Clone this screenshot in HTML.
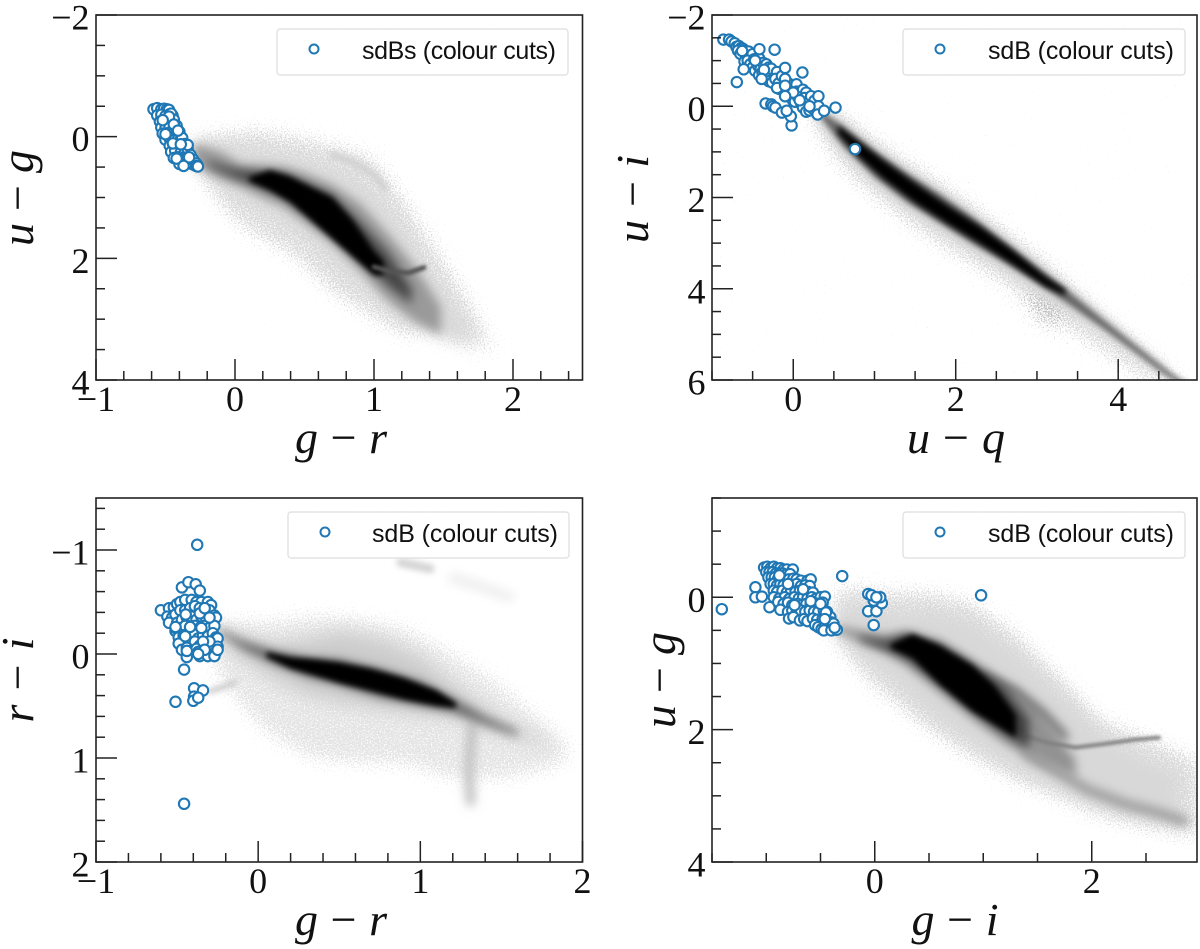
<!DOCTYPE html>
<html lang="en">
<head>
<meta charset="utf-8">
<title>sdB colour-colour diagrams</title>
<style>
html,body{margin:0;padding:0;background:#fff;width:1200px;height:949px;overflow:hidden}
svg{display:block}
.tick{font-family:"Liberation Serif",serif;font-size:36px;fill:#111}
.math{font-family:"Liberation Serif",serif;font-style:italic;font-size:46px;fill:#111}
.leg{font-family:"Liberation Sans",sans-serif;font-size:25px;fill:#111}
</style>
</head>
<body>
<svg id="fig" xmlns="http://www.w3.org/2000/svg" width="1200" height="949" viewBox="0 0 1200 949">
<defs>
<filter id="b1" filterUnits="userSpaceOnUse" x="0" y="0" width="1200" height="949"><feGaussianBlur stdDeviation="1.6"/></filter>
<filter id="b2" filterUnits="userSpaceOnUse" x="0" y="0" width="1200" height="949"><feGaussianBlur stdDeviation="3"/></filter>
<filter id="b4" filterUnits="userSpaceOnUse" x="0" y="0" width="1200" height="949"><feGaussianBlur stdDeviation="5"/></filter>
<filter id="b8" filterUnits="userSpaceOnUse" x="0" y="0" width="1200" height="949"><feGaussianBlur stdDeviation="9"/></filter>
<filter id="speckle" filterUnits="userSpaceOnUse" x="0" y="0" width="1200" height="949" color-interpolation-filters="sRGB">
<feGaussianBlur in="SourceAlpha" stdDeviation="12" result="soft"/>
<feTurbulence type="fractalNoise" baseFrequency="0.7" numOctaves="2" seed="4" result="noise"/>
<feColorMatrix in="noise" type="matrix" values="0 0 0 0 0 0 0 0 0 0 0 0 0 0 0 1 0 0 0 0" result="field"/>
<feComposite in="soft" in2="field" operator="arithmetic" k1="0" k2="2.5" k3="5" k4="-3.9"/>
</filter>
</defs>
</svg>
<script>
/* ---------- panel A : g-r vs u-g ---------- */
const aXTicks=[-1,0,1,2];
const aYTicks=[-2,0,2,4];
const aSdbX=[-.586,-.56,-.53,-.51,-.49,-.475,-.56,-.53,-.50,-.47,-.45,-.54,-.51,-.49,-.46,-.44,-.53,-.50,-.47,-.44,-.42,-.52,-.48,-.45,-.42,-.40,-.50,-.47,-.44,-.41,-.39,-.47,-.44,-.41,-.38,-.36,-.46,-.43,-.39,-.36,-.34,-.44,-.41,-.37,-.34,-.31,-.40,-.37,-.33,-.30,-.27,-.46,-.44,-.42,-.40,-.38,-.36,-.34,-.32,-.30,-.28,-.475,-.44,-.41,-.52,-.50,-.447,-.34,-.39,-.33,-.42,-.28,-.37,-.267];
const aSdbY=[-.45,-.47,-.45,-.46,-.45,-.44,-.35,-.36,-.34,-.37,-.35,-.25,-.24,-.26,-.23,-.26,-.15,-.14,-.16,-.14,-.15,-.05,-.06,-.04,-.06,-.05,.05,.03,.06,.04,.05,.15,.14,.16,.13,.15,.25,.23,.26,.24,.25,.35,.34,.36,.33,.35,.45,.47,.44,.46,.47,-.38,-.28,-.18,-.08,.02,.12,.2,.3,.38,.44,-.33,-.2,-.1,-.27,-.04,.11,.137,.126,.34,.36,.48,.48,.49];
const aHaloX=[-.3,-.1,.1,.4,.7,1,1.2,1.4,1.6,1.8,1.92];
const aHaloTop=[-.1,-.1,-.2,-.1,.05,.25,.85,1.55,2.25,3.05,3.6];
const aHaloBot=[.6,1.25,1.65,2,2.65,3.05,3.35,3.25,3.45,3.55,3.65];
const aSoftX=[-.28,-.1,.1,.3,.5,.75,1,1.2,1.4,1.55,1.7];
const aSoftTop=[.05,.12,.25,.32,.42,.6,.95,1.55,2.25,2.75,3.2];
const aSoftBot=[.45,.75,1.05,1.25,1.55,2.05,2.55,2.95,3.2,3.3,3.4];
const aMidX=[-.3,-.1,.05,.2,.35,.5,.7,.9,1.1,1.3,1.48];
const aMidTop=[.1,.25,.47,.47,.5,.6,.8,1.1,1.6,2.15,2.8];
const aMidBot=[.45,.7,.82,1,1.15,1.4,1.75,2.2,2.7,3.05,3.25];
const aDarkX=[-.2,0,.2,.35,.5,.7,.9,1.1,1.27];
const aDarkTop=[.4,.53,.58,.6,.75,.95,1.4,1.9,2.5];
const aDarkBot=[.47,.68,.85,1,1.25,1.6,2,2.45,2.75];
const aCoreX=[.1,.25,.4,.55,.7,.85,1,1.07];
const aCoreTop=[.67,.55,.66,.83,1,1.38,1.88,2.05];
const aCoreBot=[.73,.88,1.08,1.38,1.68,1.98,2.28,2.28];
const aClumpX=[1,1.12,1.25,1.36];
const aClumpY=[2.14,2.22,2.24,2.15];
const aArcX=[.7,.85,1,1.08];
const aArcY=[.3,.42,.62,.85];
/* ---------- panel B : u-q vs u-i ---------- */
const bXTicks=[0,2,4];
const bYTicks=[-2,0,2,4,6];
const bSdbX=[-.86,-.79,-.76,-.72,-.70,-.67,-.64,-.62,-.68,-.65,-.60,-.58,-.55,-.52,-.50,-.60,-.56,-.53,-.48,-.45,-.42,-.50,-.47,-.43,-.40,-.37,-.33,-.30,-.42,-.38,-.34,-.31,-.27,-.24,-.20,-.30,-.26,-.22,-.18,-.14,-.10,-.06,-.17,-.12,-.08,-.04,0,.04,-.09,-.05,0,.04,.08,.12,.16,.02,.06,.10,.14,.18,.22,.26,.12,.16,.2,.24,-.695,-.416,-.23,-.10,.113,-.61,.52,.76,-.02,-.03,-.34,-.27,-.25,-.22,-.14,-.08,.31,.31,.30,.38,-.63,-.47,-.36,-.39,-.1,-.2,-.1,0,.08,-.1,.2];
const bSdbY=[-1.46,-1.46,-1.42,-1.38,-1.3,-1.32,-1.28,-1.26,-1.22,-1.15,-1.22,-1.12,-1.2,-1.1,-1.14,-.98,-1,-.92,-1.03,-.96,-1.05,-.85,-.78,-.88,-.82,-.95,-.92,-.85,-.68,-.75,-.72,-.68,-.82,-.62,-.75,-.55,-.52,-.6,-.5,-.66,-.58,-.5,-.38,-.42,-.3,-.46,-.36,-.48,-.22,-.28,-.12,-.32,-.22,-.36,-.3,-.1,-.2,-.05,-.18,-.1,-.22,-.12,.03,.12,.09,.05,-.53,-1.25,-1.24,-.84,-.74,-.81,.03,.94,.42,.22,-.06,-.04,0,.03,.14,.1,-.22,0,.18,.1,-1.21,-1,-.8,-.6,-.6,-.4,-.45,-.3,-.13,-.22,0];
const bHaloX=[.2,.6,1,1.4,1.8,2.2,2.6,3,3.4,3.8,4.2,4.6,4.9];
const bHaloTop=[-.2,.05,.6,1.1,1.55,2.05,2.6,3.15,3.75,4.45,5.05,5.65,6.05];
const bHaloBot=[.5,1.5,2.1,2.65,3.15,3.55,4,4.6,5,5.45,5.95,6.25,6.35];
const bSoftX=[.25,.6,1,1.4,1.8,2.2,2.6,3,3.4,3.8,4.2,4.6];
const bSoftTop=[0,.3,.85,1.35,1.82,2.3,2.85,3.4,3.98,4.55,5.15,5.75];
const bSoftBot=[.2,1,1.7,2.25,2.72,3.15,3.6,4.05,4.5,4.95,5.45,5.95];
const bMidX=[.3,.6,1,1.4,1.8,2.2,2.6,3,3.4,3.8,4.2,4.6,4.9];
const bMidTop=[.05,.42,.97,1.47,1.92,2.42,2.97,3.52,4.07,4.65,5.22,5.78,6.15];
const bMidBot=[.15,.85,1.55,2.1,2.55,3,3.42,3.87,4.35,4.85,5.38,5.92,6.25];
const bCoreX=[.55,.8,1.1,1.5,1.9,2.3,2.7,3.1,3.35];
const bCoreTop=[.42,.76,1.17,1.68,2.17,2.63,3.15,3.72,4.02];
const bCoreBot=[.6,1.1,1.58,2.12,2.58,3.02,3.47,3.95,4.15];
const bBlobX=[2.85,3.1,3.35];
const bBlobTop=[3.9,4.1,4.45];
const bBlobBot=[4.5,5.05,4.9];
/* ---------- panel C : g-r vs r-i ---------- */
const cXTicks=[-1,0,1,2];
const cYTicks=[-1,0,1,2];
const cSdbX=[-.6,-.55,-.56,-.53,-.55,-.52,-.5,-.48,-.45,-.41,-.38,-.35,-.31,-.29,-.51,-.48,-.45,-.42,-.39,-.36,-.33,-.3,-.27,-.5,-.47,-.44,-.41,-.38,-.35,-.32,-.29,-.26,-.51,-.48,-.45,-.42,-.39,-.36,-.33,-.3,-.27,-.51,-.49,-.46,-.43,-.4,-.37,-.34,-.31,-.28,-.26,-.48,-.45,-.42,-.39,-.36,-.33,-.3,-.27,-.25,-.49,-.47,-.44,-.41,-.38,-.35,-.32,-.29,-.26,-.25,-.44,-.37,-.36,-.31,-.27,-.25,-.447,-.36,-.33,-.3,-.51,-.42,-.35,-.45,-.3,-.34,-.44,-.33,-.37,-.376,-.47,-.43,-.385,-.36,-.457,-.395,-.34,-.395,-.40,-.37,-.51,-.457];
const cSdbY=[-.42,-.44,-.36,-.35,-.3,-.45,-.48,-.5,-.52,-.52,-.5,-.5,-.5,-.47,-.38,-.42,-.42,-.44,-.46,-.44,-.44,-.42,-.37,-.3,-.33,-.35,-.36,-.33,-.36,-.34,-.34,-.35,-.22,-.25,-.27,-.25,-.27,-.25,-.27,-.25,-.27,-.25,-.16,-.18,-.17,-.19,-.15,-.18,-.17,-.2,-.16,-.1,-.11,-.09,-.12,-.08,-.1,-.11,-.11,-.15,-.1,-.04,-.06,-.03,-.05,-.02,-.04,-.05,-.02,-.07,.03,-.02,.02,.02,.02,-.04,-.38,-.39,-.44,-.35,-.26,-.26,-.25,-.17,-.12,-.12,-.03,-.04,0,-1.05,-.64,-.69,-.67,-.61,.15,.33,.35,.41,.45,.42,.46,1.44];
const cFarX=[-.3,0,.3,.6,.9,1.2,1.5,1.8,1.95];
const cFarTop=[-.35,-.35,-.4,-.4,-.3,-.05,.25,.65,.85];
const cFarBot=[.2,.75,1.05,1.1,1.1,1.25,1.25,1.15,1.05];
const cHaloX=[-.28,-.1,.1,.3,.5,.75,1,1.25,1.5,1.8];
const cHaloTop=[-.28,-.18,-.1,-.15,-.22,-.15,.02,.34,.62,.85];
const cHaloBot=[-.18,.05,.25,.4,.47,.53,.58,.62,.76,.9];
const cMidX=[-.25,-.1,.1,.3,.5,.75,1,1.2,1.4,1.6];
const cMidTop=[-.25,-.13,-.03,.03,.05,.14,.26,.42,.6,.74];
const cMidBot=[-.22,-.05,.1,.22,.3,.42,.5,.56,.68,.79];
const cCoreX=[.05,.2,.35,.5,.7,.9,1.1,1.22];
const cCoreTop=[-.02,.03,.05,.08,.14,.23,.35,.47];
const cCoreBot=[.03,.14,.21,.28,.36,.44,.5,.52];
const cBranchX=[1.32,1.31,1.3,1.31];
const cBranchY=[.68,.9,1.15,1.42];
const cPatchX=[.88,1.06];
const cPatchY=[-.88,-.82];
const cStreakX=[1.2,1.35,1.55];
const cStreakY=[-.73,-.66,-.55];
const cStubX=[-.3,-.22,-.14];
const cStubY=[.36,.32,.27];
/* ---------- panel D : g-i vs u-g ---------- */
const dXTicks=[0,2];
const dYTicks=[0,2,4];
const dSdbX=[-1.02,-.99,-.96,-.93,-.9,-.87,-.84,-.81,-.755,-1,-.97,-.94,-.91,-.88,-.85,-.82,-.78,-.98,-.95,-.92,-.89,-.86,-.83,-.79,-.75,-.72,-.68,-.62,-.59,-.96,-.93,-.9,-.87,-.84,-.8,-.76,-.72,-.68,-.64,-.6,-.93,-.9,-.85,-.81,-.77,-.73,-.69,-.65,-.61,-.57,-.93,-.88,-.83,-.79,-.74,-.7,-.66,-.62,-.58,-.54,-.5,-.46,-.97,-.89,-.84,-.8,-.76,-.71,-.67,-.63,-.59,-.55,-.51,-.48,-.87,-.8,-.76,-.72,-.68,-.64,-.6,-.56,-.52,-.47,-.44,-.79,-.75,-.69,-.65,-.62,-.57,-.53,-.48,-.44,-.41,-.55,-.52,-.49,-.46,-.43,-.4,-.38,-.47,-.4,-.35,-.37,-.88,-.8,-.66,-.59,-.74,-.5,-.45,-.46,-1.41,-1.1,-1.1,-1.04,-.3,.98,-.01,-.06,.015,.065,-.06,.05,-.01,-.03,.015];
const dSdbY=[-.45,-.46,-.44,-.46,-.44,-.44,-.42,-.42,-.42,-.38,-.38,-.38,-.36,-.36,-.36,-.34,-.35,-.3,-.3,-.3,-.28,-.28,-.27,-.27,-.28,-.27,-.25,-.25,-.27,-.2,-.2,-.18,-.2,-.18,-.19,-.18,-.2,-.17,-.18,-.17,-.1,-.08,-.1,-.07,-.1,-.08,-.1,-.07,-.08,-.07,0,.02,0,.03,0,.02,0,.02,0,.02,0,-.01,.15,.07,.1,.08,.12,.1,.12,.1,.11,.09,.1,.08,.19,.22,.2,.23,.2,.22,.2,.22,.22,.2,.22,.32,.3,.35,.33,.36,.32,.34,.32,.3,.3,.42,.45,.48,.44,.42,.38,.4,.5,.5,.49,.46,-.33,-.2,-.12,.06,.12,.1,.23,.33,.18,-.15,0,-.01,-.32,-.03,.42,.21,.21,.09,-.05,0,.05,-.03,0];
const dFarX=[-.4,-.1,.2,.5,.9,1.3,1.7,2.1,2.5,2.8,3.05];
const dFarTop=[-.25,-.2,-.15,-.15,0,.45,1.1,1.8,2.05,2.25,2.45];
const dFarBot=[.65,1.3,1.7,2.1,2.5,2.85,3.1,3.4,3.55,3.65,3.75];
const dHaloX=[-.35,-.1,.2,.5,.9,1.3,1.7,2.1,2.5,2.8];
const dHaloTop=[.1,.15,.25,.2,.35,.8,1.4,2.05,2.45,2.65];
const dHaloBot=[.55,.95,1.3,1.75,2.2,2.6,2.9,3.15,3.32,3.42];
const dMidX=[-.35,-.1,.1,.3,.6,.9,1.2,1.5,1.85];
const dMidTop=[.42,.52,.57,.52,.66,.96,1.3,1.72,2.45];
const dMidBot=[.53,.68,.83,1.03,1.43,1.83,2.2,2.5,2.72];
const dDarkX=[-.15,.1,.3,.6,.9,1.2,1.42];
const dDarkTop=[.59,.66,.56,.72,1.02,1.38,1.85];
const dDarkBot=[.65,.79,.94,1.33,1.72,2.08,2.28];
const dCoreX=[.15,.35,.6,.9,1.1,1.3];
const dCoreTop=[.71,.56,.73,1.03,1.33,1.78];
const dCoreBot=[.77,.92,1.32,1.72,1.92,2.12];
const dClumpX=[1.4,1.6,1.85,2.1,2.4,2.62];
const dClumpY=[2.1,2.2,2.27,2.22,2.15,2.12];
const dUpperX=[1,1.3,1.55,1.75];
const dUpperY=[1.2,1.42,1.75,2.1];
const dTailX=[1.4,1.7,1.95,2.3,2.6,2.85];
const dTailY=[2.35,2.65,2.9,3.12,3.25,3.38];

const NS='http://www.w3.org/2000/svg';
const fig=document.getElementById('fig');
function mk(tag,parent){const e=document.createElementNS(NS,tag);parent.appendChild(e);return e;}
function axisX(p,v){return p.left+(v-p.xMin)/(p.xMax-p.xMin)*(p.right-p.left);}
function axisY(p,v){return p.top+(v-p.yMin)/(p.yMax-p.yMin)*(p.bottom-p.top);}
function fmt(v){return String(v).replace('-','\u2212');}

function band(p,layer,xs,tops,bots,fill,filter,opacity){
  const up=xs.map((v,i)=>axisX(p,v).toFixed(1)+','+axisY(p,tops[i]).toFixed(1));
  const dn=xs.map((v,i)=>axisX(p,v).toFixed(1)+','+axisY(p,bots[i]).toFixed(1)).reverse();
  const e=mk('polygon',layer);
  
  
  e.setAttribute('points',up.concat(dn).join(' '));
  e.setAttribute('fill',fill);
  e.setAttribute('filter','url(#'+filter+')');
  if(opacity!==undefined)e.setAttribute('opacity',opacity);
}
function ridge(p,layer,xs,ys,stroke,width,filter,opacity){
  const e=mk('polyline',layer);
  
  
  e.setAttribute('points',xs.map((v,i)=>axisX(p,v).toFixed(1)+','+axisY(p,ys[i]).toFixed(1)).join(' '));
  e.setAttribute('fill','none');
  e.setAttribute('stroke',stroke);
  e.setAttribute('stroke-width',width);
  e.setAttribute('stroke-linecap','round');
  e.setAttribute('stroke-linejoin','round');
  e.setAttribute('filter','url(#'+filter+')');
  if(opacity!==undefined)e.setAttribute('opacity',opacity);
}
function mathText(t,a,b){
  const s1=mk('tspan',t);
  s1.textContent=a;
  const s2=mk('tspan',t);
  s2.setAttribute('font-style','normal');
  s2.textContent=' \u2212 ';
  const s3=mk('tspan',t);
  s3.textContent=b;
}

function panel(p,drawDensity){
  const g=mk('g',fig);
  
  
  const clip=mk('clipPath',g);
  clip.setAttribute('id','clip-'+p.id);
  const cr=mk('rect',clip);
  cr.setAttribute('x',p.left);cr.setAttribute('y',p.top);
  cr.setAttribute('width',p.right-p.left);cr.setAttribute('height',p.bottom-p.top);
  const dens=mk('g',g);
  
  
  dens.setAttribute('clip-path','url(#clip-'+p.id+')');
  drawDensity(p,dens);
  const pts=mk('g',g);
  
  
  pts.setAttribute('clip-path','url(#clip-'+p.id+')');
  p.sdbX.forEach((v,i)=>{
    const c=mk('circle',pts);
    
    
    c.setAttribute('cx',axisX(p,v).toFixed(1));
    c.setAttribute('cy',axisY(p,p.sdbY[i]).toFixed(1));
    c.setAttribute('r','5.2');
    c.setAttribute('fill','#fff');
    c.setAttribute('stroke','#1f77b4');
    c.setAttribute('stroke-width','2.1');
  });
  /* ticks */
  const ticks=mk('g',g);
  
  
  function tick(x1,y1,x2,y2){
    const t=mk('line',ticks);
    
    
    t.setAttribute('x1',x1);t.setAttribute('y1',y1);t.setAttribute('x2',x2);t.setAttribute('y2',y2);
    t.setAttribute('stroke','#222');t.setAttribute('stroke-width','1.5');
  }
  for(let k=Math.ceil(p.xMin/p.xMinor);k*p.xMinor<=p.xMax+1e-9;k++){
    const v=k*p.xMinor;
    const major=p.xTicks.some(t=>Math.abs(t-v)<1e-6);
    const x=axisX(p,v);
    tick(x,p.bottom,x,p.bottom-(major?21:9));
  }
  for(let k=Math.ceil(p.yMin/p.yMinor);k*p.yMinor<=p.yMax+1e-9;k++){
    const v=k*p.yMinor;
    const major=p.yTicks.some(t=>Math.abs(t-v)<1e-6);
    const y=axisY(p,v);
    tick(p.left,y,p.left+(major?21:9),y);
  }
  p.xTicks.forEach(v=>{
    const t=mk('text',g);
    
    
    t.setAttribute('class','tick');
    t.setAttribute('x',axisX(p,v));
    t.setAttribute('y',p.bottom+31);
    t.setAttribute('text-anchor','middle');
    t.textContent=fmt(v);
  });
  p.yTicks.forEach(v=>{
    const t=mk('text',g);
    
    
    t.setAttribute('class','tick');
    t.setAttribute('x',p.left-6.5);
    t.setAttribute('y',axisY(p,v)+14.5);
    t.setAttribute('text-anchor','end');
    t.textContent=fmt(v);
  });
  /* frame */
  const fr=mk('rect',g);
  
  
  fr.setAttribute('x',p.left);fr.setAttribute('y',p.top);
  fr.setAttribute('width',p.right-p.left);fr.setAttribute('height',p.bottom-p.top);
  fr.setAttribute('fill','none');fr.setAttribute('stroke','#222');fr.setAttribute('stroke-width','1.6');
  /* axis titles */
  const xt=mk('text',g);
  
  
  xt.setAttribute('class','math');
  xt.setAttribute('x',p.xTitleX-p.xTitleLen/2);
  xt.setAttribute('y',p.bottom+73);
  xt.setAttribute('textLength',p.xTitleLen);
  mathText(xt,p.xTitle[0],p.xTitle[1]);
  const yt=mk('text',g);
  
  
  yt.setAttribute('class','math');
  yt.setAttribute('transform','translate('+p.yTitleX+','+(p.yTitleY+p.yTitleLen/2)+') rotate(-90)');
  yt.setAttribute('textLength',p.yTitleLen);
  mathText(yt,p.yTitle[0],p.yTitle[1]);
  /* legend */
  const lg=mk('g',g);
  
  
  const box=mk('rect',lg);
  
  
  box.setAttribute('x',p.legX);box.setAttribute('y',p.top+14);
  box.setAttribute('width',p.legW);box.setAttribute('height',46);
  box.setAttribute('rx',3);
  box.setAttribute('fill','#fff');box.setAttribute('fill-opacity','0.8');
  box.setAttribute('stroke','#ddd');box.setAttribute('stroke-width','1.2');
  const mark=mk('circle',lg);
  
  
  mark.setAttribute('cx',p.legMark);mark.setAttribute('cy',p.top+34);
  mark.setAttribute('r','4.5');mark.setAttribute('fill','#fff');
  mark.setAttribute('stroke','#1f77b4');mark.setAttribute('stroke-width','2');
  const lt=mk('text',lg);
  
  
  lt.setAttribute('class','leg');
  lt.setAttribute('x',p.legText);lt.setAttribute('y',p.top+44);
  lt.setAttribute('textLength',p.legLen);
  lt.textContent=p.legend;
}

panel({id:'a',name:'panel-gr-ug',left:96,right:582.5,top:15,bottom:380,xMin:-1,xMax:2.5,yMin:-2,yMax:4,
  xMinor:.2,yMinor:.5,xTicks:aXTicks,yTicks:aYTicks,sdbX:aSdbX,sdbY:aSdbY,
  xTitle:['g','r'],xTitleX:341,xTitleLen:92,yTitle:['u','g'],yTitleX:33,yTitleY:198,yTitleLen:96,
  legX:277,legW:291,legMark:314,legText:362,legLen:194,legend:'sdBs (colour cuts)'},(p,d)=>{
  band(p,d,aHaloX,aHaloTop,aHaloBot,'#000','speckle',.14);
  band(p,d,aSoftX,aSoftTop,aSoftBot,'#d8d8d8','b8');
  ridge(p,d,aArcX,aArcY,'#d0d0d0',7,'b2');
  band(p,d,aMidX,aMidTop,aMidBot,'#9a9a9a','b4');
  band(p,d,aDarkX,aDarkTop,aDarkBot,'#444','b4');
  band(p,d,aCoreX,aCoreTop,aCoreBot,'#000','b2');
  ridge(p,d,aClumpX,aClumpY,'#555',5,'b1');
});
panel({id:'b',name:'panel-uq-ui',left:712,right:1197,top:15,bottom:380,xMin:-1,xMax:4.97,yMin:-2,yMax:6,
  xMinor:.5,yMinor:.5,xTicks:bXTicks,yTicks:bYTicks,sdbX:bSdbX,sdbY:bSdbY,
  xTitle:['u','q'],xTitleX:956,xTitleLen:98,yTitle:['u','i'],yTitleX:648,yTitleY:199,yTitleLen:88,
  legX:903,legW:282,legMark:940,legText:988,legLen:186,legend:'sdB (colour cuts)'},(p,d)=>{
  band(p,d,bHaloX,bHaloTop,bHaloBot,'#000','speckle',.14);
  band(p,d,bBlobX,bBlobTop,bBlobBot,'#000','speckle',.14);
  band(p,d,bSoftX,bSoftTop,bSoftBot,'#d4d4d4','b4');
  band(p,d,bMidX,bMidTop,bMidBot,'#666','b2');
  band(p,d,bCoreX,bCoreTop,bCoreBot,'#000','b2');
});
panel({id:'c',name:'panel-gr-ri',left:96,right:582.5,top:498,bottom:862,xMin:-1,xMax:2,yMin:-1.5,yMax:2,
  xMinor:.2,yMinor:.2,xTicks:cXTicks,yTicks:cYTicks,sdbX:cSdbX,sdbY:cSdbY,
  xTitle:['g','r'],xTitleX:341,xTitleLen:92,yTitle:['r','i'],yTitleX:33,yTitleY:680,yTitleLen:85,
  legX:288,legW:281,legMark:325,legText:372,legLen:186,legend:'sdB (colour cuts)'},(p,d)=>{
  band(p,d,cFarX,cFarTop,cFarBot,'#000','speckle',.1);
  ridge(p,d,cPatchX,cPatchY,'#d4d4d4',9,'b2');
  ridge(p,d,cStreakX,cStreakY,'#eee',10,'b4');
  ridge(p,d,cStubX,cStubY,'#c8c8c8',5,'b2');
  band(p,d,cHaloX,cHaloTop,cHaloBot,'#cccccc','b8');
  ridge(p,d,cBranchX,cBranchY,'#bcbcbc',9,'b4');
  band(p,d,cMidX,cMidTop,cMidBot,'#666','b4');
  band(p,d,cCoreX,cCoreTop,cCoreBot,'#000','b2');
});
panel({id:'d',name:'panel-gi-ug',left:712,right:1197,top:498,bottom:862,xMin:-1.5,xMax:2.97,yMin:-1.5,yMax:4,
  xMinor:.5,yMinor:.5,xTicks:dXTicks,yTicks:dYTicks,sdbX:dSdbX,sdbY:dSdbY,
  xTitle:['g','i'],xTitleX:955,xTitleLen:87,yTitle:['u','g'],yTitleX:675,yTitleY:680,yTitleLen:96,
  legX:903,legW:282,legMark:940,legText:988,legLen:186,legend:'sdB (colour cuts)'},(p,d)=>{
  band(p,d,dFarX,dFarTop,dFarBot,'#000','speckle',.14);
  band(p,d,dHaloX,dHaloTop,dHaloBot,'#d8d8d8','b8');
  band(p,d,dMidX,dMidTop,dMidBot,'#929292','b4');
  ridge(p,d,dTailX,dTailY,'#9c9c9c',10,'b4');
  ridge(p,d,dUpperX,dUpperY,'#6a6a6a',8,'b4');
  ridge(p,d,dClumpX,dClumpY,'#808080',4,'b1');
  band(p,d,dDarkX,dDarkTop,dDarkBot,'#3c3c3c','b4');
  band(p,d,dCoreX,dCoreTop,dCoreBot,'#000','b2');
});
</script>
</body>
</html>
